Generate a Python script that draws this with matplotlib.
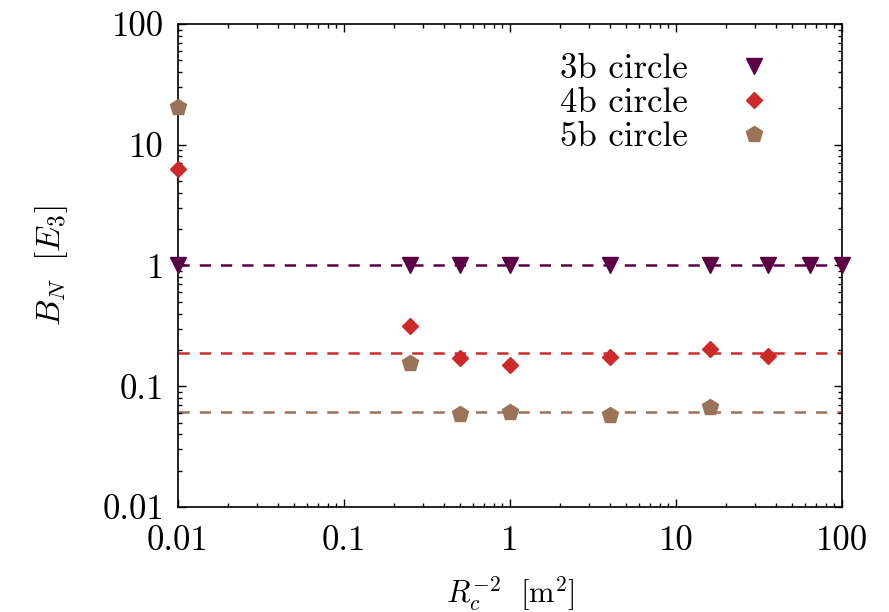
import matplotlib
matplotlib.use("Agg")
import matplotlib.pyplot as plt
from matplotlib.ticker import FixedLocator, FixedFormatter, LogLocator, NullFormatter

plt.rcParams["font.family"] = "serif"
plt.rcParams["font.serif"] = ["cmr10", "DejaVu Serif"]
plt.rcParams["mathtext.fontset"] = "cm"
plt.rcParams["axes.formatter.use_mathtext"] = True

# Binding energies B_N (units of E_3) versus inverse squared cutoff radius
x3 = [0.01, 0.25, 0.5, 1, 4, 16, 36, 64, 100]
b3 = [1.0, 1.0, 1.0, 1.0, 1.0, 1.0, 1.0, 1.0, 1.0]

x4 = [0.01, 0.25, 0.5, 1, 4, 16, 36]
b4 = [6.3, 0.313, 0.172, 0.149, 0.176, 0.203, 0.179]

x5 = [0.01, 0.25, 0.5, 1, 4, 16]
b5 = [20.4, 0.155, 0.059, 0.0615, 0.0578, 0.0677]

# Limit values (dashed reference lines)
limit3 = 1.0
limit4 = 0.187
limit5 = 0.0608

labels = ["3b circle", "4b circle", "5b circle"]
colors = ["#5c0045", "#cf2a2a", "#9a7358"]

xticks = [0.01, 0.1, 1, 10, 100]
xticklabels = ["0.01", "0.1", "1", "10", "100"]
yticks = [0.01, 0.1, 1, 10, 100]
yticklabels = ["0.01", "0.1", "1", "10", "100"]

fig = plt.figure(figsize=(8.89, 6.12), dpi=100)
ax = fig.add_axes([0.2002, 0.1716, 0.7468, 0.7892])
ax.set_xscale("log")
ax.set_yscale("log")
ax.set_xlim(0.01, 100)
ax.set_ylim(0.01, 100)

dash = dict(linestyle=(0, (4.5, 4.0)), linewidth=1.8, zorder=1)
ax.axhline(limit3, color=colors[0], **dash)
ax.axhline(limit4, color=colors[1], **dash)
ax.axhline(limit5, color=colors[2], **dash)

ax.plot(x3, b3, linestyle="none", marker="v", markersize=11, color=colors[0],
        label=labels[0], zorder=3, clip_on=False)
ax.plot(x4, b4, linestyle="none", marker="D", markersize=8, color=colors[1],
        label=labels[1], zorder=3, clip_on=False)
ax.plot(x5, b5, linestyle="none", marker="p", markersize=12, color=colors[2],
        label=labels[2], zorder=3, clip_on=False)

ax.xaxis.set_major_locator(FixedLocator(xticks))
ax.xaxis.set_major_formatter(FixedFormatter(xticklabels))
ax.yaxis.set_major_locator(FixedLocator(yticks))
ax.yaxis.set_major_formatter(FixedFormatter(yticklabels))
for axis in (ax.xaxis, ax.yaxis):
    axis.set_minor_locator(LogLocator(base=10, subs=range(2, 10), numticks=20))
    axis.set_minor_formatter(NullFormatter())

ax.tick_params(which="both", direction="in", top=True, right=True, width=1.0)
ax.tick_params(which="major", length=5.5, labelsize=25)
ax.tick_params(axis="x", which="major", pad=13)
ax.tick_params(axis="y", which="major", pad=10)
ax.tick_params(which="minor", length=3)
for s in ax.spines.values():
    s.set_linewidth(1.2)

ax.set_xlabel(r"$R_c^{-2}\ \ [\mathrm{m}^2]$", fontsize=22)
ax.set_ylabel(r"$B_N\ \ [E_3]$", fontsize=24)
ax.xaxis.set_label_coords(0.5, -0.138)
ax.yaxis.set_label_coords(-0.163, 0.5)

leg = ax.legend(loc="upper right", bbox_to_anchor=(0.93, 0.99), frameon=False,
                markerfirst=False, fontsize=25, handlelength=1.0,
                handletextpad=1.4, labelspacing=0.07, borderaxespad=0.3)

fig.savefig("out.png", dpi=100)
